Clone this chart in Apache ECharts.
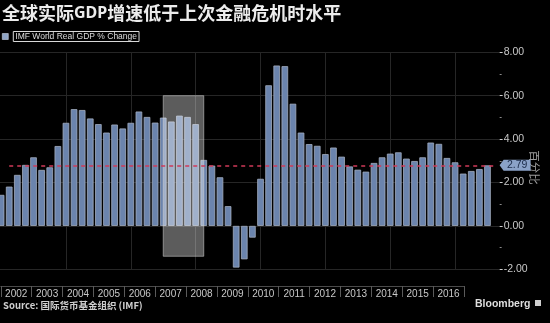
<!DOCTYPE html>
<html>
<head>
<meta charset="utf-8">
<script src="https://cdn.jsdelivr.net/npm/echarts@6/dist/echarts.min.js"></script>
<style>
  html, body { margin: 0; padding: 0; background: #000; }
  #chart { width: 550px; height: 323px; }
</style>
</head>
<body>
<div id="chart"></div>
<script>
// Title pieces: the Latin acronym is set bold
const titleParts = ['全球实际', 'GDP', '增速低于上次金融危机时水平'];
const seriesName = 'IMF World Real GDP % Change';
const unitLabel = '百分比';
const sourceText = 'Source: 国际货币基金组织 (IMF)';
const brandText = 'Bloomberg';

// Year tick labels shown in the bottom band
const yearLabels = ['2002', '2003', '2004', '2005', '2006', '2007', '2008', '2009',
  '2010', '2011', '2012', '2013', '2014', '2015', '2016'];

// Quarterly categories: 2001Q4 through 2016Q4
const quarters = ['2001Q4'];
yearLabels.forEach(y => ['Q1', 'Q2', 'Q3', 'Q4'].forEach(q => quarters.push(y + q)));

// World real GDP, % change (quarterly)
const gdpChange = [
  1.43,
  1.81, 2.35, 2.81, 3.16,
  2.58, 2.70, 3.68, 4.75,
  5.38, 5.34, 4.95, 4.69,
  4.30, 4.67, 4.49, 4.75,
  5.27, 5.02, 4.76, 4.99,
  4.81, 5.08, 5.02, 4.69,
  3.04, 2.78, 2.24, 0.91,
  -1.92, -1.54, -0.54, 2.17,
  6.48, 7.39, 7.36, 5.63,
  4.30, 3.77, 3.69, 3.31,
  3.61, 3.19, 2.74, 2.59,
  2.50, 2.90, 3.16, 3.33,
  3.39, 3.10, 2.99, 3.16,
  3.84, 3.78, 3.13, 2.93,
  2.41, 2.53, 2.62, 2.79
];

// Latest reading, drawn as the reference line and value tag
const latestValue = gdpChange[gdpChange.length - 1];

// Shaded crisis window: quarter span and value span
const highlightQuarters = ['2006Q4', '2008Q1'];
const highlightValues = [-1.4, 6.0];

// Vertical guide lines every two years
const guideQuarters = ['2003Q4', '2005Q4', '2007Q4', '2009Q4', '2011Q4', '2013Q4', '2015Q4'];

// One empty slot after the last quarter keeps a gap before the axis
const axisCategories = quarters.concat(['']);
const qIndex = q => quarters.indexOf(q);

const plotLeft = -2.95;
const plotWidth = 502.6;

const chart = echarts.init(document.getElementById('chart'), null, { renderer: 'canvas' });

chart.setOption({
  backgroundColor: '#000',
  animation: false,
  title: {
    text: '{a|' + titleParts[0] + '}{b|' + titleParts[1] + '}{a|' + titleParts[2] + '}',
    left: 2,
    top: 3,
    padding: 0,
    textStyle: {
      rich: {
        a: { fontSize: 18, color: '#ececec', fontFamily: '"Noto Sans CJK SC"', lineHeight: 20 },
        b: { fontSize: 16, fontWeight: 'bold', color: '#ececec', fontFamily: '"Noto Sans"', lineHeight: 20 }
      }
    }
  },
  legend: {
    left: 2,
    top: 31,
    padding: 0,
    icon: 'rect',
    itemWidth: 6,
    itemHeight: 6,
    selectedMode: false,
    data: [{ name: seriesName, itemStyle: { color: '#8ea4c6', borderColor: '#c9d2e0', borderWidth: 0.6 } }],
    textStyle: {
      color: '#dcdcdc',
      fontSize: 8.5,
      fontFamily: '"Liberation Sans"',
      borderColor: '#d8d8d8',
      borderWidth: 1,
      padding: [1, 2, 0, 2]
    }
  },
  grid: [
    { left: plotLeft, width: plotWidth, top: 52.3, height: 217, containLabel: false, outerBoundsMode: 'none' },
    { left: plotLeft, width: plotWidth, top: 45, height: 245, containLabel: false, outerBoundsMode: 'none' },
    { left: 0.8, width: 463.2, top: 276, height: 10, containLabel: false, outerBoundsMode: 'none' }
  ],
  xAxis: [
    { gridIndex: 0, type: 'category', data: axisCategories, boundaryGap: true, show: false },
    { gridIndex: 1, type: 'value', min: 0, max: 1, show: false },
    {
      gridIndex: 2, type: 'category', data: yearLabels, boundaryGap: true, position: 'bottom',
      axisLine: { show: true, lineStyle: { color: '#4a4a4a', width: 1 } },
      axisTick: { show: true, interval: 0, length: 11, lineStyle: { color: '#5a5a5a', width: 1 } },
      axisLabel: { interval: 0, margin: 3, fontSize: 10, color: '#c8c8c8', fontFamily: '"Liberation Sans"' },
      splitLine: { show: false }
    }
  ],
  yAxis: [
    {
      gridIndex: 0, type: 'value', position: 'right', min: -2, max: 8, interval: 2,
      axisLine: { show: false },
      axisTick: { show: true, length: 3, lineStyle: { color: '#cfcfcf', width: 1 } },
      minorTick: { show: true, splitNumber: 2, length: 2, lineStyle: { color: '#8a8a8a', width: 1 } },
      axisLabel: {
        margin: 4, fontSize: 10.5, color: '#c8c8c8', fontFamily: '"Liberation Sans"',
        formatter: v => v.toFixed(2)
      },
      splitLine: { show: true, lineStyle: { color: '#262626', width: 1 } }
    },
    {
      gridIndex: 1, type: 'value', position: 'right', min: 0, max: 1,
      axisLine: { show: true, lineStyle: { color: '#bdbdbd', width: 1 } },
      axisTick: { show: false },
      axisLabel: { show: false },
      splitLine: { show: false },
      name: unitLabel,
      nameLocation: 'middle',
      nameRotate: -90,
      nameGap: 29,
      nameTextStyle: { color: '#9c9c9c', fontSize: 11.5, fontFamily: '"Noto Sans CJK SC"' }
    },
    { gridIndex: 2, type: 'value', show: false }
  ],
  series: [
    {
      name: seriesName,
      type: 'bar',
      xAxisIndex: 0,
      yAxisIndex: 0,
      z: 2,
      data: gdpChange,
      barWidth: 6.6,
      silent: true,
      itemStyle: { color: '#6b84ad', borderColor: '#a3adbf', borderWidth: 0.8 },
      markLine: {
        z: 1,
        silent: true,
        symbol: 'none',
        label: { show: false },
        lineStyle: { color: '#262626', width: 1, type: 'solid' },
        data: guideQuarters.map(q => ({ xAxis: qIndex(q) }))
      }
    },
    {
      // translucent window laid over the bars
      name: 'window',
      type: 'custom',
      xAxisIndex: 0,
      yAxisIndex: 0,
      z: 3,
      silent: true,
      data: [[qIndex(highlightQuarters[0]), qIndex(highlightQuarters[1]), highlightValues[0], highlightValues[1]]],
      encode: { x: [0, 1], y: [2, 3] },
      renderItem: (params, api) => {
        const p0 = api.coord([api.value(0), api.value(3)]);
        const p1 = api.coord([api.value(1), api.value(2)]);
        return {
          type: 'rect',
          shape: { x: p0[0], y: p0[1], width: p1[0] - p0[0], height: p1[1] - p0[1] },
          style: { fill: 'rgba(255,255,255,0.36)', stroke: 'rgba(210,210,210,0.55)', lineWidth: 1 }
        };
      }
    },
    {
      name: 'latest',
      type: 'line',
      xAxisIndex: 0,
      yAxisIndex: 0,
      data: [],
      clip: false,
      silent: true,
      markLine: {
        z: 5,
        silent: true,
        symbol: 'none',
        label: { show: false },
        lineStyle: { color: '#cf3a58', width: 1.5, type: [4, 4] },
        data: [[
          { coord: [1, latestValue] },
          { coord: [quarters.length, latestValue] }
        ]]
      },
      markPoint: {
        z: 6,
        silent: true,
        symbol: 'path://M0,5.5L4,0H31V11H4Z',
        symbolSize: [31, 11],
        symbolKeepAspect: false,
        symbolOffset: [19.5, 0],
        itemStyle: { color: '#8aa2c8' },
        label: {
          show: true,
          position: 'inside',
          offset: [2, 0],
          color: '#1c2c4a',
          fontSize: 10.5,
          fontFamily: '"Liberation Sans"',
          formatter: p => Number(p.value).toFixed(2)
        },
        data: [{ coord: [quarters.length, latestValue], value: latestValue }]
      }
    }
  ],
  graphic: [
    {
      type: 'text', left: 3, top: 301,
      style: { text: sourceText, fill: '#cfcfcf', font: 'bold 9.5px "Noto Sans CJK SC"' }
    },
    {
      type: 'text', left: 475, top: 299,
      style: { text: brandText, fill: '#dedede', font: 'bold 10.5px "Liberation Sans"' }
    },
    {
      type: 'rect', left: 535, top: 300,
      shape: { x: 0, y: 0, width: 6, height: 6 },
      style: { fill: '#cfcfcf' }
    }
  ]
});
</script>
</body>
</html>
